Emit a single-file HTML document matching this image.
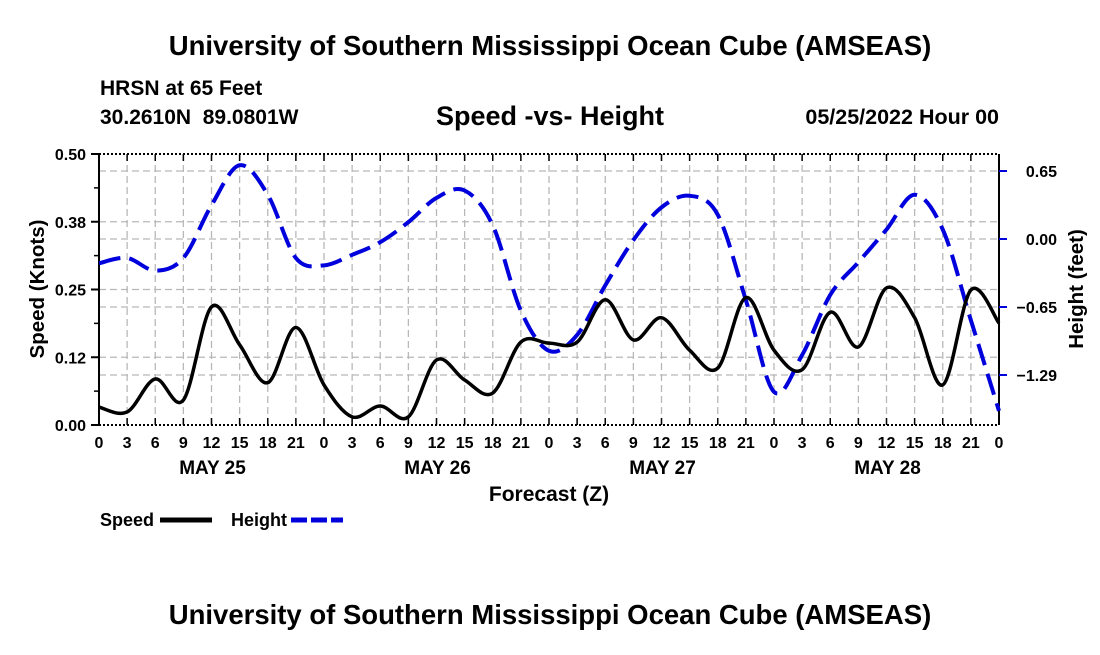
<!DOCTYPE html>
<html><head><meta charset="utf-8"><style>
body{margin:0;background:#fff;}
svg text{font-family:"Liberation Sans",Arial,sans-serif;font-weight:bold;fill:#000;}
</style></head><body>
<svg width="1100" height="650" viewBox="0 0 1100 650" xmlns="http://www.w3.org/2000/svg">
<text x="550" y="55" font-size="27.5" text-anchor="middle">University of Southern Mississippi Ocean Cube (AMSEAS)</text>
<text x="100" y="95" font-size="21">HRSN at 65 Feet</text>
<text x="100" y="124" font-size="21" xml:space="preserve">30.2610N  89.0801W</text>
<text x="550" y="125" font-size="27" text-anchor="middle">Speed -vs- Height</text>
<text x="999" y="124" font-size="21.5" text-anchor="end">05/25/2022 Hour 00</text>
<g id="grid"></g>
<g id="axes"></g>
<g id="series"></g>
<text x="549" y="501" font-size="21" text-anchor="middle">Forecast (Z)</text>
<text transform="translate(44,289) rotate(-90)" font-size="20.5" text-anchor="middle">Speed (Knots)</text>
<text transform="translate(1083,289) rotate(-90)" font-size="20.5" text-anchor="middle">Height (feet)</text>
<g>
<text x="100" y="526" font-size="18">Speed</text>
<line x1="160" y1="520" x2="212" y2="520" stroke="#000" stroke-width="5"/>
<text x="231" y="526" font-size="18">Height</text>
<line x1="291" y1="520" x2="343" y2="520" stroke="#0000dd" stroke-width="5" stroke-dasharray="16,4"/>
</g>
<text x="550" y="624" font-size="27.5" text-anchor="middle">University of Southern Mississippi Ocean Cube (AMSEAS)</text>
</svg>
<script>
const hours=[0,3,6,9,12,15,18,21,24,27,30,33,36,39,42,45,48,51,54,57,60,63,66,69,72,75,78,81,84,87,90,93,96];
const speed=[0.033,0.024,0.085,0.046,0.218,0.148,0.078,0.18,0.074,0.015,0.035,0.015,0.12,0.083,0.059,0.153,0.151,0.153,0.231,0.157,0.198,0.138,0.105,0.235,0.138,0.102,0.208,0.144,0.253,0.198,0.074,0.249,0.188];
const height=[-0.23,-0.18,-0.30,-0.18,0.32,0.70,0.42,-0.18,-0.25,-0.15,-0.03,0.16,0.39,0.46,0.13,-0.68,-1.06,-0.91,-0.44,-0.01,0.30,0.41,0.23,-0.58,-1.45,-1.1,-0.53,-0.22,0.09,0.42,0.09,-0.77,-1.63];
const speedTicks=[0,0.125,0.25,0.375,0.5];
const speedTickLabels=["0.00","0.12","0.25","0.38","0.50"];
const heightTicks=[0.645,0,-0.645,-1.29];
const heightTickLabels=["0.65","0.00","\u22120.65","\u22121.29"];
const xTickLabels=["0","3","6","9","12","15","18","21"];
const dayLabels=["MAY 25","MAY 26","MAY 27","MAY 28"];

const NS="http://www.w3.org/2000/svg";
const L=99,R=999,T=154,B=425;
const xs=h=>L+h*(R-L)/96;
const ys=s=>B-s*(B-T)/0.5;
const yh=v=>239-v*(375-239)/1.29;
function mk(tag,attrs,parent){const e=document.createElementNS(NS,tag);for(const k in attrs)e.setAttribute(k,attrs[k]);parent.appendChild(e);return e;}
const grid=document.getElementById('grid'),axes=document.getElementById('axes'),series=document.getElementById('series');
for(let h=3;h<96;h+=3){const l=mk('line',{x1:xs(h),x2:xs(h),y1:T,y2:B,stroke:'#b8b8b8','stroke-width':1.3,'stroke-dasharray':'7,4'},grid);

}
speedTicks.slice(1,4).forEach(s=>{const l=mk('line',{x1:L,x2:R,y1:ys(s),y2:ys(s),stroke:'#b8b8b8','stroke-width':1.3,'stroke-dasharray':'7,4'},grid);

});
heightTicks.forEach(v=>{const l=mk('line',{x1:L,x2:R,y1:yh(v),y2:yh(v),stroke:'#b8b8b8','stroke-width':1.3,'stroke-dasharray':'7,4'},grid);

});
mk('line',{x1:L,x2:L,y1:T,y2:B,stroke:'#000','stroke-width':2},axes);
mk('line',{x1:R,x2:R,y1:T,y2:B,stroke:'#000','stroke-width':2},axes);
mk('line',{x1:L,x2:R,y1:B,y2:B,stroke:'#000','stroke-width':2,'stroke-dasharray':'2,2'},axes);
mk('line',{x1:L,x2:R,y1:T,y2:T,stroke:'#000','stroke-width':2,'stroke-dasharray':'2,2'},axes);
for(let h=0;h<=96;h+=3){
 mk('line',{x1:xs(h),x2:xs(h),y1:B,y2:B-7,stroke:'#000','stroke-width':1.5},axes);
 mk('line',{x1:xs(h),x2:xs(h),y1:T,y2:T+7,stroke:'#000','stroke-width':1.5},axes);
 const t=mk('text',{x:xs(h),y:448,'font-size':16,'text-anchor':'middle'},axes);
 t.textContent=xTickLabels[(h/3)%8];
 
 
}
dayLabels.forEach((d,i)=>{const t=mk('text',{x:xs(i*24+12)+1,y:474,'font-size':19,'text-anchor':'middle'},axes);t.textContent=d;

});
speedTicks.forEach((s,i)=>{mk('line',{x1:L-8,x2:L,y1:ys(s),y2:ys(s),stroke:'#000','stroke-width':2},axes);
 const t=mk('text',{x:86,y:ys(s)+6,'font-size':16,'text-anchor':'end'},axes);t.textContent=speedTickLabels[i];
 
 });
for(let s=0.0625;s<0.5;s+=0.125)mk('line',{x1:L-5,x2:L,y1:ys(s),y2:ys(s),stroke:'#000','stroke-width':1.5},axes);
heightTicks.forEach((v,i)=>{mk('line',{x1:R,x2:R+8,y1:yh(v),y2:yh(v),stroke:'#0000dd','stroke-width':2},axes);
 const t=mk('text',{x:1057,y:yh(v)+6,'font-size':16,'text-anchor':'end'},axes);t.textContent=heightTickLabels[i];
 
 });
function pathFor(vals,yf){
 const p=hours.map((h,i)=>[xs(h),yf(vals[i])]);
 let d='M'+p[0][0]+','+p[0][1];
 for(let i=0;i<p.length-1;i++){
  const p0=p[Math.max(0,i-1)],p1=p[i],p2=p[i+1],p3=p[Math.min(p.length-1,i+2)];
  const c1=[p1[0]+(p2[0]-p0[0])/6,p1[1]+(p2[1]-p0[1])/6];
  const c2=[p2[0]-(p3[0]-p1[0])/6,p2[1]-(p3[1]-p1[1])/6];
  d+=`C${c1[0]},${c1[1]} ${c2[0]},${c2[1]} ${p2[0]},${p2[1]}`;
 }
 return d;
}
const hp=mk('path',{d:pathFor(height,yh),fill:'none',stroke:'#0000dd','stroke-width':4,'stroke-dasharray':'22,9'},series);


const sp=mk('path',{d:pathFor(speed,ys),fill:'none',stroke:'#000','stroke-width':3.5},series);


</script>
</body></html>
